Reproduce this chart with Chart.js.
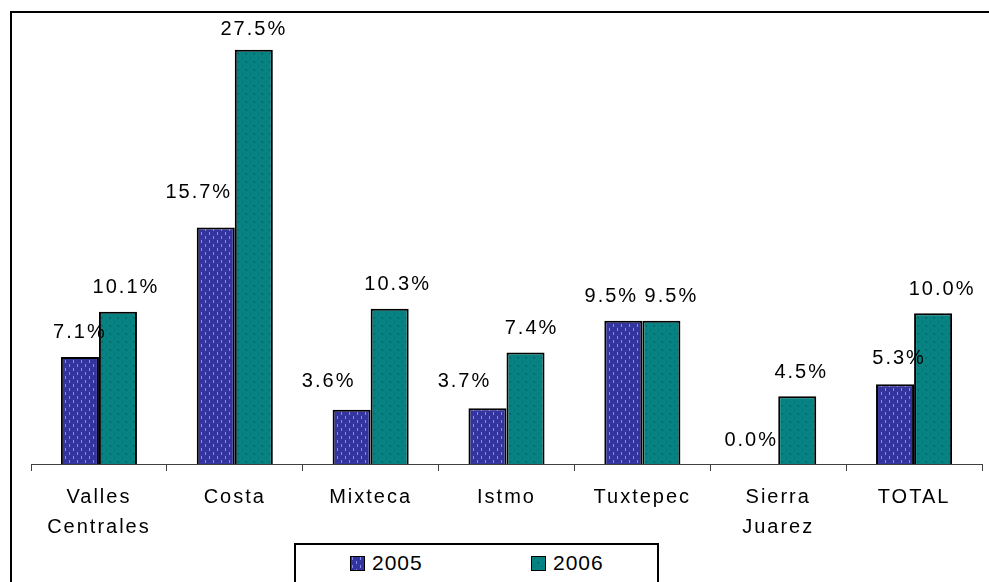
<!DOCTYPE html>
<html>
<head>
<meta charset="utf-8">
<script src="https://cdn.jsdelivr.net/npm/chart.js@4/dist/chart.umd.min.js"></script>
<style>
  body { margin: 0; background: #fff; font-family: "Liberation Sans", Arial, sans-serif; }
  #wrap { position: relative; width: 989px; height: 582px; overflow: hidden; }
  #marco { position: absolute; left: 10px; top: 11px; width: 1000px; height: 600px;
           border-top: 2px solid #000; border-left: 2px solid #000; pointer-events: none; }
  #leyenda { position: absolute; left: 294px; top: 543px; width: 361px; height: 60px;
             border: 2px solid #000; background: #fff; }
  .item { position: absolute; top: 6px; font-size: 21px; letter-spacing: 1px; color: #000;
          display: flex; align-items: center; }
  .item canvas { width: 13px; height: 13px; border: 1px solid #000; margin-right: 7px; }
</style>
</head>
<body>
<div id="wrap">
  <canvas id="grafica" width="989" height="582"></canvas>
  <div id="marco"></div>
  <div id="leyenda">
    <div class="item" style="left:54px"><canvas id="m2005" width="13" height="13"></canvas>2005</div>
    <div class="item" style="left:235px"><canvas id="m2006" width="13" height="13"></canvas>2006</div>
  </div>
</div>
<script>
const regiones = [["Valles", "Centrales"], "Costa", "Mixteca", "Istmo", "Tuxtepec", ["Sierra", "Juarez"], "TOTAL"];
const anios = ["2005", "2006"];
const valores2005 = [7.1, 15.7, 3.6, 3.7, 9.5, 0.0, 5.3];
const valores2006 = [10.1, 27.5, 10.3, 7.4, 9.5, 4.5, 10.0];

// desplazamientos de las etiquetas de valor (px) para que no se encimen
const despX = [[-1, -18, -24, -24, -13, -9, 3], [7, -1, 7, 5, 9, 3, 8]];
const despY = [[1, 11, 4, 3, 0, 0, 2], [0, -4, 0, 0, 0, 0, 0]];

const fuente = '"Liberation Sans", Arial, sans-serif';

// tramas de relleno de las barras
function trama2005(ctx) {
  const c = document.createElement("canvas");
  c.width = 8; c.height = 8;
  const g = c.getContext("2d");
  g.fillStyle = "#34349e";
  g.fillRect(0, 0, 8, 8);
  g.fillStyle = "#8a8aee";
  g.fillRect(1, 0, 1, 3);
  g.fillRect(5, 4, 1, 3);
  return ctx.createPattern(c, "repeat");
}

function trama2006(ctx) {
  const c = document.createElement("canvas");
  c.width = 8; c.height = 8;
  const g = c.getContext("2d");
  g.fillStyle = "#078282";
  g.fillRect(0, 0, 8, 8);
  g.fillStyle = "#006a6a";
  g.fillRect(2, 1, 1, 1);
  g.fillRect(6, 5, 1, 2);
  g.fillRect(5, 5, 1, 1);
  return ctx.createPattern(c, "repeat");
}

function pintarMuestra(id, fn) {
  const ctx = document.getElementById(id).getContext("2d");
  ctx.fillStyle = fn(ctx);
  ctx.fillRect(0, 0, 13, 13);
}
pintarMuestra("m2005", trama2005);
pintarMuestra("m2006", trama2006);

const espaciado = {
  id: "espaciado",
  beforeUpdate(chart) { chart.ctx.letterSpacing = "2px"; },
  beforeDraw(chart) { chart.ctx.letterSpacing = "2px"; }
};

const etiquetas = {
  id: "etiquetas",
  afterDatasetsDraw(chart) {
    const ctx = chart.ctx;
    ctx.save();
    ctx.letterSpacing = "2px";
    ctx.font = "20px " + fuente;
    ctx.fillStyle = "#000";
    ctx.textAlign = "center";
    ctx.textBaseline = "middle";
    chart.data.datasets.forEach((ds, i) => {
      chart.getDatasetMeta(i).data.forEach((bar, j) => {
        ctx.fillText(ds.data[j].toFixed(1) + "%", bar.x + 1 + despX[i][j], bar.y - 24 - despY[i][j]);
      });
    });
    ctx.restore();
  }
};

const ctx = document.getElementById("grafica").getContext("2d");
new Chart(ctx, {
  type: "bar",
  data: {
    labels: regiones,
    datasets: [
      { label: anios[0], data: valores2005, backgroundColor: trama2005(ctx), borderColor: "#000", borderWidth: 2 },
      { label: anios[1], data: valores2006, backgroundColor: trama2006(ctx), borderColor: "#000", borderWidth: 2 }
    ]
  },
  options: {
    responsive: false,
    animation: false,
    barPercentage: 1,
    categoryPercentage: 0.56,
    layout: { padding: { top: 12, left: 31, right: 7, bottom: 29 } },
    plugins: { legend: { display: false }, tooltip: { enabled: false } },
    scales: {
      y: { display: false, min: 0, max: 30 },
      x: {
        offset: true,
        grid: { offset: true, drawOnChartArea: false, tickLength: 7, color: "#404040", lineWidth: 1 },
        border: { color: "#404040", width: 1 },
        ticks: {
          color: "#000",
          padding: 11,
          autoSkip: false,
          maxRotation: 0,
          font: { family: fuente, size: 20, lineHeight: 1.5 }
        }
      }
    }
  },
  plugins: [espaciado, etiquetas]
});
</script>
</body>
</html>
